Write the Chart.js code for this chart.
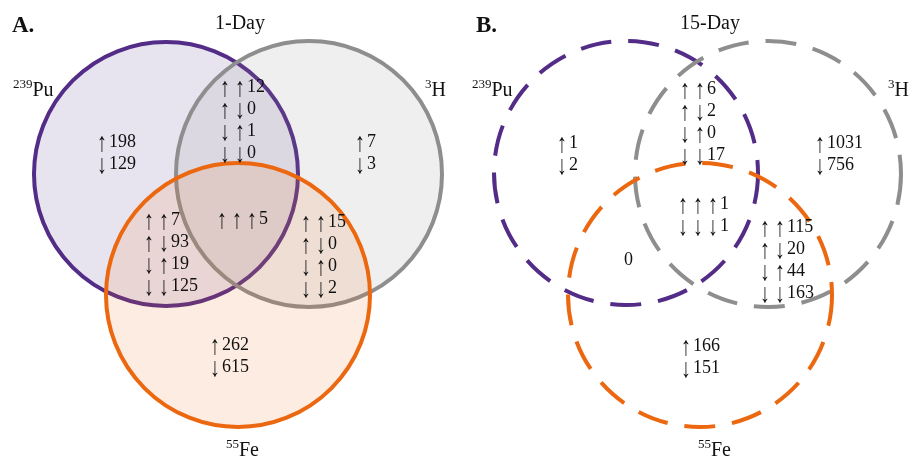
<!DOCTYPE html>
<html>
<head>
<meta charset="utf-8">
<script src="https://cdn.jsdelivr.net/npm/chart.js@4/dist/chart.umd.min.js"></script>
<style>
  html, body { margin: 0; padding: 0; background: #fff; }
  #wrap { width: 909px; height: 459px; position: relative; }
</style>
</head>
<body>
<div id="wrap"><canvas id="venn"></canvas></div>
<script>
// panel text
const panelLetters = ['A.', 'B.'];
const panelTitles = ['1-Day', '15-Day'];
const isotopeMass = ['239', '3', '55'];
const isotopeSymbol = ['Pu', 'H', 'Fe'];

// counts per region: Pu only, H only, Fe only, Pu+H, Pu+Fe, H+Fe, all three
const oneDayCounts = [[198, 129], [7, 3], [262, 615], [12, 0, 1, 0], [7, 93, 19, 125], [15, 0, 0, 2], [5]];
const fifteenDayCounts = [[1, 2], [1031, 756], [166, 151], [6, 2, 0, 17], [0], [115, 20, 44, 163], [1, 1]];

// circle layout (page units) Pu, H, Fe
const circleX = [[166, 309, 238], [626, 768, 700]];
const circleY = [[174, 174, 295], [173, 174, 295]];
const circleR = [[132, 133, 132], [132, 133, 132]];

// where each region's text block starts (left x, first line y)
const regionX = [[97, 355, 210, 220, 144, 301, 217], [557, 815, 681, 680, 624, 760, 678]];
const regionY = [[142, 142, 345, 87, 220, 222, 219], [143, 143, 346, 89, 260, 227, 204]];

const lineColors = ['#532c87', '#8e8e8e', '#ec6810'];
const fillColors = ['rgba(75,40,130,0.125)', 'rgba(140,140,140,0.14)', 'rgba(240,110,20,0.13)'];

function arrowsFor(region, n) {
  if (region < 3) return ['↑', '↓'];
  if (region < 6) return n === 4 ? ['↑↑', '↑↓', '↓↑', '↓↓'] : [''];
  return ['↑↑↑', '↓↓↓'];
}

function circleData(p) {
  return circleX[p].map((x, i) => ({ x: x, y: circleY[p][i], r: circleR[p][i] }));
}

function pxRadius(ctx) {
  const s = ctx.chart.scales.x;
  return s.getPixelForValue(ctx.raw.r) - s.getPixelForValue(0);
}

const datasets = [0, 1].map(p => ({
  data: circleData(p),
  dashed: p === 1,
  backgroundColor: p === 0 ? fillColors : 'rgba(0,0,0,0)',
  borderColor: lineColors,
  borderWidth: 4,
  pointRadius: pxRadius,
  pointHoverRadius: pxRadius,
  showLine: false
}));

const dashPlugin = {
  id: 'dash',
  beforeDatasetDraw(chart, args) {
    chart.ctx.save();
    if (chart.data.datasets[args.index].dashed) chart.ctx.setLineDash([31, 17]);
  },
  afterDatasetDraw(chart) {
    chart.ctx.restore();
  }
};

const serif = '"Liberation Serif", "Times New Roman", serif';

function isotopeLabel(ctx, mass, sym, x, y) {
  ctx.textAlign = 'left';
  ctx.textBaseline = 'alphabetic';
  ctx.font = '13px ' + serif;
  ctx.fillText(mass, x, y - 8);
  const w = ctx.measureText(mass).width;
  ctx.font = '20px ' + serif;
  ctx.fillText(sym, x + w, y);
}

// tall thin arrows like the Times glyphs in the figure
function drawArrow(ctx, ch, x, y) {
  ctx.save();
  ctx.font = '20px ' + serif;
  ctx.translate(x, y + 2);
  ctx.scale(1, 1.35);
  ctx.fillText(ch, 0, 0);
  ctx.restore();
}

const textPlugin = {
  id: 'venntext',
  afterDatasetsDraw(chart) {
    const ctx = chart.ctx;
    const sx = chart.scales.x, sy = chart.scales.y;
    const X = v => sx.getPixelForValue(v), Y = v => sy.getPixelForValue(v);
    ctx.save();
    ctx.fillStyle = '#111';
    const letterX = [12, 476], titleX = [240, 710];
    const labX = [[13, 425, 226], [472, 888, 698]];
    const labY = [[96, 96, 456], [96, 96, 456]];
    [oneDayCounts, fifteenDayCounts].forEach((counts, p) => {
      ctx.textBaseline = 'middle';
      ctx.textAlign = 'left';
      ctx.font = 'bold 23px ' + serif;
      ctx.fillText(panelLetters[p], X(letterX[p]), Y(26));
      ctx.textAlign = 'center';
      ctx.font = '20px ' + serif;
      ctx.fillText(panelTitles[p], X(titleX[p]), Y(24));
      isotopeSymbol.forEach((s, i) => isotopeLabel(ctx, isotopeMass[i], s, X(labX[p][i]), Y(labY[p][i])));

      ctx.font = '18px ' + serif;
      ctx.textBaseline = 'middle';
      ctx.textAlign = 'left';
      counts.forEach((vals, r) => {
        const arr = arrowsFor(r, vals.length);
        vals.forEach((v, k) => {
          const a = arr[k] || '';
          const x0 = X(regionX[p][r]);
          const y0 = Y(regionY[p][r] + k * 22);
          let x = x0;
          for (const ch of a) { drawArrow(ctx, ch, x, y0); x += 15; }
          if (a.length) x -= 3;
          ctx.fillText(String(v), x, y0);
        });
      });
    });
    ctx.restore();
  }
};

new Chart(document.getElementById('venn').getContext('2d'), {
  type: 'scatter',
  data: { datasets: datasets },
  options: {
    responsive: true,
    maintainAspectRatio: false,
    animation: false,
    layout: { padding: 0 },
    scales: {
      x: { type: 'linear', min: 0, max: 909, display: false },
      y: { type: 'linear', min: 0, max: 459, reverse: true, display: false }
    },
    plugins: {
      legend: { display: false },
      tooltip: { enabled: false }
    },
    events: []
  },
  plugins: [dashPlugin, textPlugin]
});
</script>
</body>
</html>
